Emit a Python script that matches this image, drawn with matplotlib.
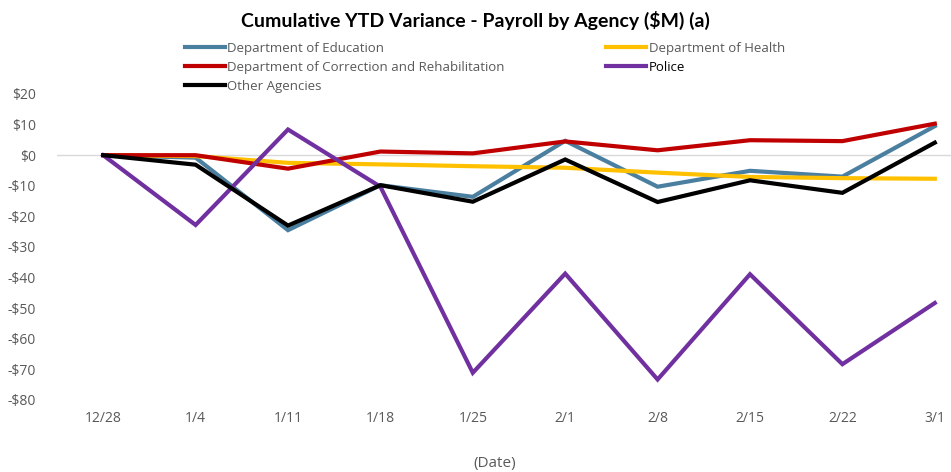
import matplotlib
matplotlib.use('Agg')
import matplotlib.pyplot as plt
from matplotlib.ticker import FuncFormatter

plt.rcParams['font.family'] = ['Open Sans', 'DejaVu Sans']

dates = ['12/28', '1/4', '1/11', '1/18', '1/25', '2/1', '2/8', '2/15', '2/22', '3/1']

education = [0, -0.8, -24.5, -9.8, -13.6, 4.7, -10.3, -5.1, -7.0, 9.5]
health = [0, -0.3, -2.5, -3.0, -3.6, -4.1, -5.7, -7.1, -7.5, -7.7]
correction = [0, 0, -4.4, 1.2, 0.6, 4.5, 1.6, 4.9, 4.6, 10.3]
police = [0, -22.8, 8.4, -10.3, -71.1, -38.7, -73.3, -38.9, -68.3, -48.3]
other = [0, -3.1, -23.0, -9.8, -15.2, -1.4, -15.3, -8.2, -12.3, 4.1]

series = [
    ('Department of Education', education, '#4A7FA0'),
    ('Department of Health', health, '#FFC000'),
    ('Department of Correction and Rehabilitation', correction, '#C00000'),
    ('Police', police, '#7030A0'),
    ('Other Agencies', other, '#000000'),
]

fig = plt.figure(figsize=(9.51, 4.72), dpi=100)
ax = fig.add_axes([57 / 951, 72 / 472, 924 / 951, 306 / 472])

x = range(len(dates))
lines = {}
for i, (name, vals, col) in enumerate(series):
    ln, = ax.plot(x, vals, color=col, lw=3.0, label=name, zorder=3 + i,
                  solid_joinstyle='miter')
    lines[name] = ln

ax.axhline(0, color='#d9d9d9', lw=1.0, zorder=1)
ax.set_xlim(-0.5, 9.5)
ax.set_ylim(-80, 20)
ax.set_yticks(range(-80, 21, 10))
ax.yaxis.set_major_formatter(FuncFormatter(lambda v, p: f'${v:.0f}' if v >= 0 else f'-${-v:.0f}'))
ax.set_xticks(list(x))
ax.set_xticklabels(dates)
for s in ax.spines.values():
    s.set_visible(False)
ax.tick_params(length=0, colors='#595959', labelsize=10)
ax.tick_params(axis='y', pad=15)
ax.tick_params(axis='x', pad=8)

ax.set_xlabel('(Date)', color='#595959', fontsize=11)
ax.xaxis.set_label_coords((495 - 57) / 924, -(463 - 400) / 306, transform=ax.transAxes)
ax.xaxis.label.set_va('center')

fig.text(0.5, 1 - 20 / 472, 'Cumulative YTD Variance - Payroll by Agency ($M) (a)',
         ha='center', va='center', fontsize=14, fontweight='bold', family=['Lato', 'DejaVu Sans'])

order = ['Department of Education', 'Department of Correction and Rehabilitation',
         'Other Agencies', 'Department of Health', 'Police']
leg = fig.legend([lines[n] for n in order], order, ncol=2, frameon=False,
                 loc='upper left', bbox_to_anchor=(185 / 951, 1 - 42 / 472),
                 fontsize=9.5, handlelength=3.0, handletextpad=0.2,
                 columnspacing=7.7, labelspacing=0.45, borderaxespad=0, borderpad=0)
for t in leg.get_texts():
    t.set_color('#000000' if t.get_text() == 'Police' else '#595959')

fig.savefig('out.png', dpi=100)
